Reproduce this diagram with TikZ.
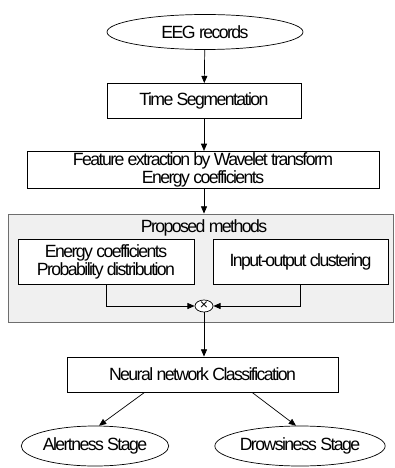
\documentclass[tikz,border=0pt]{standalone}
\usepackage{fontspec}
\setmainfont{Liberation Sans}[LetterSpace=-9]
\definecolor{panelgray}{RGB}{240, 240, 240}
\definecolor{framegray}{RGB}{110, 110, 110}
\usetikzlibrary{shapes.geometric, arrows.meta, positioning, calc}
\tikzset{
    stagebox/.style={draw, rectangle, minimum height=0.875cm, font=\fontsize{12.6}{12.8}\selectfont, align=center, line width=0.6pt, inner sep=1pt},
    endbox/.style={draw, ellipse, minimum height=1cm, font=\fontsize{12.6}{12.8}\selectfont, inner sep=0pt, line width=0.5pt},
    panel/.style={draw=framegray, fill=panelgray, rectangle, line width=0.6pt},
    crossnode/.style={draw, ellipse, fill=white, minimum width=0.45cm, minimum height=0.3cm, inner sep=0pt, font=\fontsize{10}{10}\selectfont, line width=0.5pt},
    flowarrow/.style={-{Triangle[length=1.8mm, width=1.5mm]}, line width=0.5pt},
}

\begin{document}
\begin{tikzpicture}
                    \useasboundingbox (0,0) rectangle (9.85,-11.7);
                    % input and preprocessing
                    \node[endbox, minimum width=4.9cm, minimum height=0.875cm] (eeg) at (5.125,-0.8) {EEG records};
                    \node[stagebox, minimum width=4.85cm] (seg) at (5.1,-2.525) {Time Segmentation};
                    \node[stagebox, minimum width=8.8cm, minimum height=0.9cm] (feat) at (5.075,-4.25) {Feature extraction by Wavelet transform\\Energy coefficients};

                    % proposed methods panel
                    \node[panel, minimum width=9.625cm, minimum height=2.7cm] (prop) at (5.0125,-6.7) {};
                    \node[font=\fontsize{12.6}{12.8}\selectfont] (proptitle) at (5.1,-5.7) {Proposed methods};
                    \node[stagebox, fill=white, minimum width=4.4cm, minimum height=1.125cm] (prob) at (2.65,-6.5375) {Energy coefficients\\Probability distribution};
                    \node[stagebox, fill=white, minimum width=4.375cm, minimum height=1.125cm] (clust) at (7.5125,-6.5375) {Input-output clustering};
                    \node[crossnode] (mult) at (5.1,-7.65) {×};

                    % classifier and outputs
                    \node[stagebox, minimum width=6.775cm] (nn) at (5.0625,-9.3625) {Neural network Classification};
                    \node[endbox, minimum width=3.4cm] (alert) at (2.375,-11.15) {Alertness Stage};
                    \node[endbox, minimum width=3.4cm] (drowsy) at (7.5,-11.15) {Drowsiness Stage};

                    \draw[flowarrow] (eeg) -- (seg);
                    \draw[flowarrow] (seg) -- (seg |- feat.north);
                    \draw[flowarrow] (seg |- feat.south) -- (seg |- prop.north);
                    \draw[flowarrow] (prob.south) |- (mult.west);
                    \draw[flowarrow] (clust.south) |- (mult.east);
                    \draw[flowarrow] (mult) -- (mult |- nn.north);
                    \draw[flowarrow] ([xshift=-1.45cm]nn.south) -- ([xshift=0.1cm]alert.north);
                    \draw[flowarrow] ([xshift=1.24cm]nn.south) -- ([xshift=-0.1cm]drowsy.north);
                \end{tikzpicture}
\end{document}
